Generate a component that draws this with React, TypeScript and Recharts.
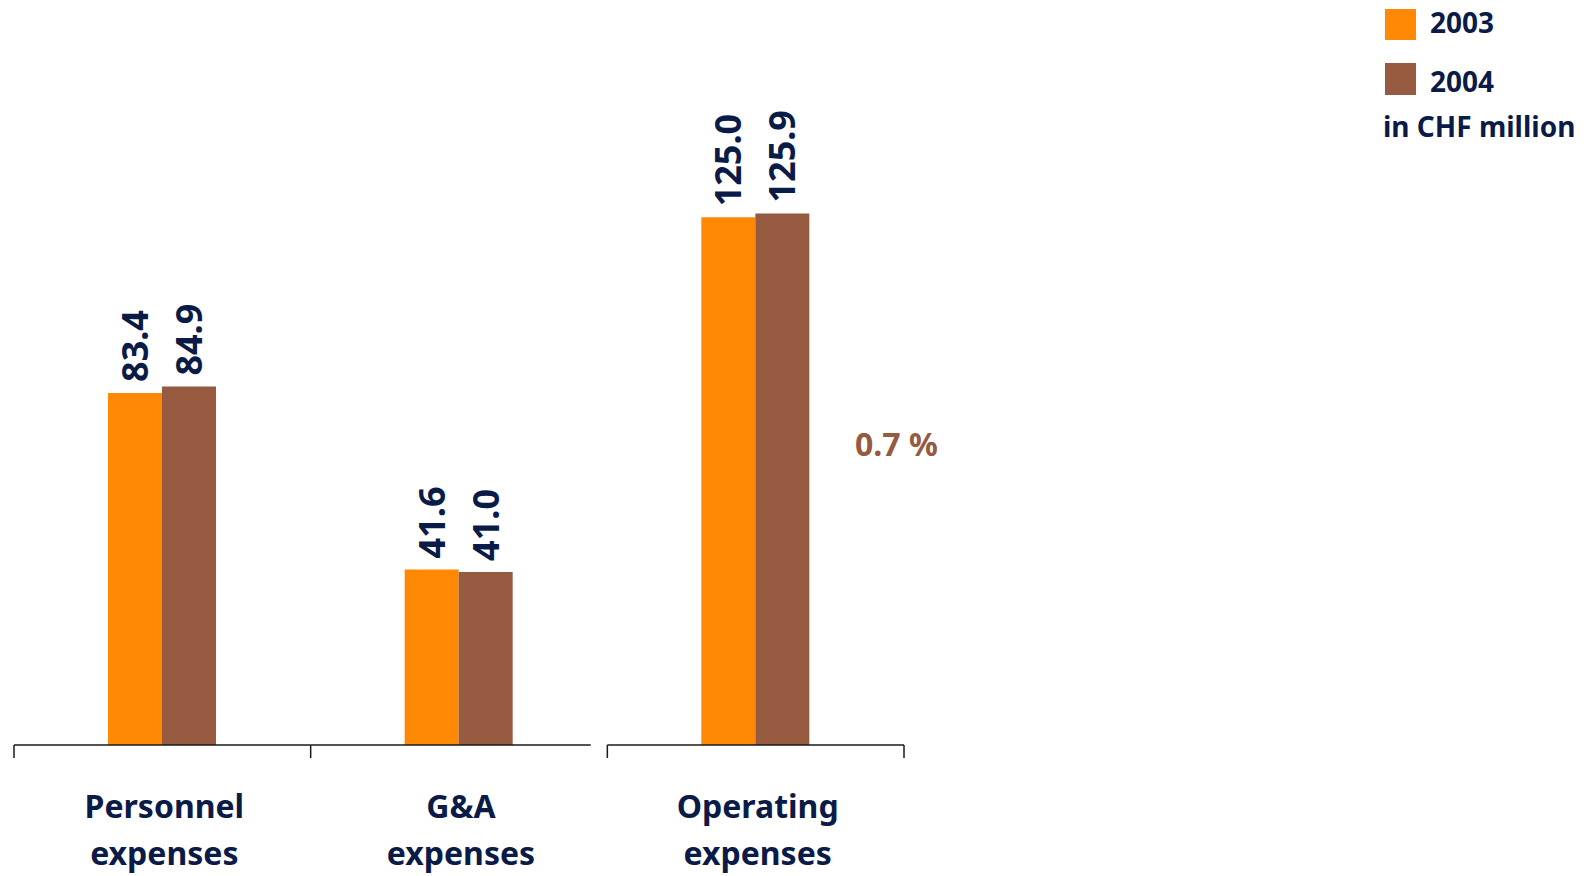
import React from "react";
import { Bar, BarChart, LabelList, XAxis, YAxis } from "recharts";

// values in CHF million
const categories = ["Personnel expenses", "G&A expenses", "Operating expenses"];
const categoryLines = [
  ["Personnel", "expenses"],
  ["G&A", "expenses"],
  ["Operating", "expenses"],
];
const values2003 = [83.4, 41.6, 125.0];
const values2004 = [84.9, 41.0, 125.9];
const seriesNames = ["2003", "2004"];
const changeNote = "0.7 %";
const unitNote = "in CHF million";

const ORANGE = "#ff8904";
const BROWN = "#965a41";
const NAVY = "#0b1b47";
const FONT = "'Noto Sans', 'Open Sans', sans-serif";

const W = 1596;
const H = 876;
const margin = { top: 154, right: 692, bottom: 0, left: 14 };
const catW = (W - margin.left - margin.right) / categories.length;

const data = categories.map((name, i) => ({
  name,
  y2003: values2003[i],
  y2004: values2004[i],
}));

// axis is drawn per category: the original has a break before the last group
const segments = [
  { from: -0.5, to: 0.5, leftTick: true, rightTick: true },
  { from: -0.5, to: 0.444, leftTick: false, rightTick: false },
  { from: -0.5, to: 0.5, leftTick: true, rightTick: true },
];

const CategoryTick = (props: any) => {
  const { x, y, index } = props;
  const seg = segments[index];
  const x1 = x + seg.from * catW;
  const x2 = x + seg.to * catW;
  const lines = categoryLines[index];
  return (
    <g>
      <line x1={x1} x2={x2} y1={y} y2={y} stroke="#1a1a1a" strokeWidth={1.5} />
      {seg.leftTick && <line x1={x1} x2={x1} y1={y} y2={y + 13} stroke="#1a1a1a" strokeWidth={1.5} />}
      {seg.rightTick && <line x1={x2} x2={x2} y1={y} y2={y + 13} stroke="#1a1a1a" strokeWidth={1.5} />}
      {lines.map((t, k) => (
        <text
          key={t}
          x={x + 2}
          y={y + 73 + k * 47}
          textAnchor="middle"
          fill={NAVY}
          fontFamily={FONT}
          fontWeight="bold"
          fontSize={32}
        >
          {t}
        </text>
      ))}
    </g>
  );
};

const ValueLabel = (props: any) => {
  const { x, y, width, value } = props;
  const cx = x + width / 2;
  return (
    <text
      transform={`translate(${cx + 13}, ${y - 11}) rotate(-90)`}
      textAnchor="start"
      fill={NAVY}
      fontFamily={FONT}
      fontWeight="bold"
      fontSize={36}
    >
      {Number(value).toFixed(1)}
    </text>
  );
};

const LegendBox = () => (
  <svg width={213} height={150} style={{ position: "absolute", left: 1383, top: 0 }}>
    <rect x={2} y={9} width={31} height={31} fill={ORANGE} />
    <text x={47} y={33} fill={NAVY} fontFamily={FONT} fontWeight="bold" fontSize={28}>
      {seriesNames[0]}
    </text>
    <rect x={2} y={63} width={31} height={32} fill={BROWN} />
    <text x={47} y={92} fill={NAVY} fontFamily={FONT} fontWeight="bold" fontSize={28}>
      {seriesNames[1]}
    </text>
    <text x={0} y={137} fill={NAVY} fontFamily={FONT} fontWeight="bold" fontSize={28}>
      {unitNote}
    </text>
  </svg>
);

export default function App() {
  return (
    <div style={{ position: "absolute", left: 0, top: 0, width: W, height: H, background: "#fff" }}>
      <BarChart width={W} height={H} data={data} margin={margin} barGap={0} barSize={54}>
        <XAxis
          dataKey="name"
          axisLine={false}
          tickLine={false}
          tickSize={0}
          tickMargin={0}
          interval={0}
          height={131}
          tick={<CategoryTick />}
        />
        <YAxis hide domain={[0, 140]} />
        <Bar dataKey="y2003" name={seriesNames[0]} fill={ORANGE} isAnimationActive={false}>
          <LabelList dataKey="y2003" content={<ValueLabel />} />
        </Bar>
        <Bar dataKey="y2004" name={seriesNames[1]} fill={BROWN} isAnimationActive={false}>
          <LabelList dataKey="y2004" content={<ValueLabel />} />
        </Bar>
      </BarChart>
      <LegendBox />
      <svg width={120} height={50} style={{ position: "absolute", left: 853, top: 420 }}>
        <text x={2} y={36} fill={BROWN} fontFamily={FONT} fontWeight="bold" fontSize={32}>
          {changeNote}
        </text>
      </svg>
    </div>
  );
}
